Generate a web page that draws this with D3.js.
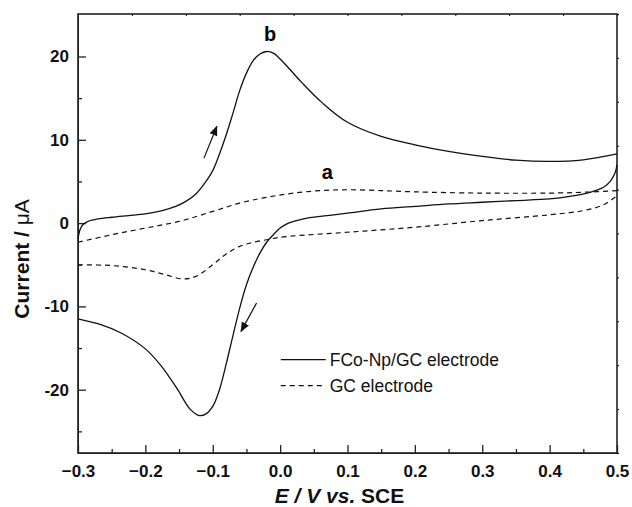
<!DOCTYPE html>
<html>
<head>
<meta charset="utf-8">
<script src="https://cdn.jsdelivr.net/npm/d3@7"></script>
<style>
  body { margin: 0; background: #fff; }
  svg { font-family: "Liberation Sans", Arial, sans-serif; }
  .tick-label { font-weight: bold; font-size: 17px; }
</style>
</head>
<body>
<svg id="chart"></svg>
<script>
// potential (V vs SCE) / current (uA) pairs, each branch sorted by potential
const bForward = [[-0.3,-1.9],[-0.297,-0.8],[-0.293,-0.2],[-0.285,0.2],[-0.27,0.5],[-0.25,0.7],[-0.225,0.9],
  [-0.2,1.1],[-0.175,1.5],[-0.155,2.0],[-0.14,2.6],[-0.125,3.5],[-0.11,5.0],[-0.1,6.3],[-0.09,8.3],
  [-0.08,10.6],[-0.07,13.2],[-0.06,15.9],[-0.05,18.0],[-0.04,19.5],[-0.03,20.3],[-0.02,20.6],[-0.01,20.4],
  [0.0,19.7],[0.015,18.4],[0.033,16.8],[0.063,14.4],[0.1,12.1],[0.15,10.4],[0.2,9.4],[0.25,8.6],
  [0.3,8.0],[0.35,7.55],[0.4,7.4],[0.45,7.6],[0.5,8.3]];
const bReverse = [[-0.3,-11.5],[-0.266,-12.2],[-0.236,-13.2],[-0.2,-15.1],[-0.176,-17.2],[-0.152,-20.0],
  [-0.134,-22.3],[-0.12,-23.1],[-0.11,-22.9],[-0.1,-22.0],[-0.09,-20.0],[-0.08,-16.9],[-0.07,-13.5],
  [-0.06,-10.2],[-0.05,-7.4],[-0.04,-5.3],[-0.03,-3.6],[-0.02,-2.3],[-0.01,-1.4],[0.0,-0.6],[0.01,-0.1],
  [0.02,0.2],[0.04,0.6],[0.07,0.9],[0.1,1.2],[0.15,1.7],[0.2,2.0],[0.25,2.3],[0.3,2.5],[0.35,2.7],
  [0.4,2.9],[0.43,3.2],[0.46,3.7],[0.48,4.3],[0.49,5.0],[0.497,6.0],[0.5,7.0]];
const aForward = [[-0.3,-2.3],[-0.25,-1.4],[-0.2,-0.6],[-0.15,0.2],[-0.1,1.4],[-0.06,2.4],[-0.02,3.1],
  [0.02,3.6],[0.06,3.9],[0.1,4.0],[0.15,3.9],[0.2,3.75],[0.3,3.6],[0.4,3.6],[0.45,3.7],[0.5,3.9]];
const aReverse = [[-0.3,-5.0],[-0.25,-5.1],[-0.2,-5.6],[-0.17,-6.2],[-0.145,-6.7],[-0.125,-6.4],
  [-0.1,-5.0],[-0.08,-3.7],[-0.06,-2.8],[-0.04,-2.3],[-0.02,-2.0],[0.0,-1.7],[0.1,-1.1],[0.2,-0.5],
  [0.3,0.3],[0.4,1.0],[0.45,1.5],[0.48,2.2],[0.5,3.3]];

const xTicks = [-0.3, -0.2, -0.1, 0.0, 0.1, 0.2, 0.3, 0.4, 0.5];
const yTicks = [-20, -10, 0, 10, 20];
const legendLabels = ["FCo-Np/GC electrode", "GC electrode"];

const W = 632, H = 507;
const margin = { top: 14, right: 15, bottom: 54, left: 78 };
const width = W - margin.left - margin.right;
const height = H - margin.top - margin.bottom;

const svg = d3.select("#chart").attr("width", W).attr("height", H);
const chart = svg.append("g").attr("transform", `translate(${margin.left},${margin.top})`);

const x = d3.scaleLinear().domain([-0.3, 0.5]).range([0, width]);
const y = d3.scaleLinear().domain([-27.6, 25.1]).range([height, 0]);

// minor ticks first, then major ones with labels
chart.append("g").attr("transform", `translate(0,${height})`)
  .call(d3.axisBottom(x).tickValues(d3.range(-0.25, 0.5, 0.1)).tickSizeInner(-4).tickSizeOuter(0).tickFormat(""));
chart.append("g")
  .call(d3.axisLeft(y).tickValues([-25, -15, -5, 5, 15]).tickSizeInner(-4).tickSizeOuter(0).tickFormat(""));

const xAxisG = chart.append("g").attr("transform", `translate(0,${height})`)
  .call(d3.axisBottom(x).tickValues(xTicks).tickSizeInner(-8).tickSizeOuter(0).tickPadding(12).tickFormat(d3.format(".1f")));
const yAxisG = chart.append("g")
  .call(d3.axisLeft(y).tickValues(yTicks).tickSizeInner(-8).tickSizeOuter(0).tickPadding(9).tickFormat(d => d));

[xAxisG, yAxisG].forEach(g => {
  g.selectAll("text").attr("class", "tick-label").attr("fill", "#111");
  g.select(".domain").remove();
});
chart.selectAll("g line").attr("stroke", "#222").attr("stroke-width", 1.3);

// top and right axes: tiny ticks on an independent 10-step grid
const xTop = d3.scaleLinear().domain([0, 10]).range([0, width]);
const yRight = d3.scaleLinear().domain([0, 10]).range([height, 0]);
chart.append("g").call(d3.axisTop(xTop).ticks(10).tickSize(-2).tickSizeOuter(0).tickFormat(""))
  .call(g => g.select(".domain").remove());
chart.append("g").attr("transform", `translate(${width},0)`)
  .call(d3.axisRight(yRight).ticks(10).tickSize(2).tickSizeOuter(0).tickFormat(""))
  .call(g => g.select(".domain").remove());

// frame
chart.append("rect")
  .attr("width", width).attr("height", height)
  .attr("fill", "none").attr("stroke", "#222").attr("stroke-width", 1.6);

const line = d3.line()
  .x(d => x(d[0]))
  .y(d => y(d[1]))
  .curve(d3.curveCatmullRom.alpha(0.5));

[bForward, bReverse].forEach(s => {
  chart.append("path").datum(s).attr("d", line)
    .attr("fill", "none").attr("stroke", "#111").attr("stroke-width", 1.3);
});
[aForward, aReverse].forEach(s => {
  chart.append("path").datum(s).attr("d", line)
    .attr("fill", "none").attr("stroke", "#111").attr("stroke-width", 1.2)
    .attr("stroke-dasharray", "5,4");
});

// arrows showing scan direction
const defs = svg.append("defs");
defs.append("marker").attr("id", "arrow")
  .attr("viewBox", "0 0 10 10").attr("refX", 9).attr("refY", 5)
  .attr("markerWidth", 10).attr("markerHeight", 10).attr("markerUnits", "userSpaceOnUse")
  .attr("orient", "auto")
  .append("path").attr("d", "M0,1 L10,5 L0,9 Z").attr("fill", "#111");

const arrows = [
  [[-0.113, 7.8], [-0.094, 11.6]],
  [[-0.035, -9.6], [-0.058, -13.0]]
];
arrows.forEach(a => {
  chart.append("line")
    .attr("x1", x(a[0][0])).attr("y1", y(a[0][1]))
    .attr("x2", x(a[1][0])).attr("y2", y(a[1][1]))
    .attr("stroke", "#111").attr("stroke-width", 1.2)
    .attr("marker-end", "url(#arrow)");
});

// curve labels
chart.append("text").attr("x", x(-0.015)).attr("y", y(21.9))
  .attr("text-anchor", "middle").attr("font-weight", "bold").attr("font-size", 20).text("b");
chart.append("text").attr("x", x(0.07)).attr("y", y(5.3))
  .attr("text-anchor", "middle").attr("font-weight", "bold").attr("font-size", 20).text("a");

// legend
const legend = chart.append("g").attr("transform", `translate(${x(-0.005)},${y(-16.4)})`);
legendLabels.forEach((lab, i) => {
  const row = legend.append("g").attr("transform", `translate(0,${i * 26})`);
  row.append("line").attr("x1", 4).attr("x2", 49).attr("y1", 0).attr("y2", 0)
    .attr("stroke", "#111").attr("stroke-width", 1.2)
    .attr("stroke-dasharray", i === 0 ? null : "5,4");
  row.append("text").attr("x", 53).attr("y", 6.5).attr("font-size", 17.5).attr("fill", "#111").text(lab);
});

// axis titles
const yTitle = svg.append("text")
  .attr("transform", `translate(29,${margin.top + y(-4.3)}) rotate(-90)`)
  .attr("text-anchor", "middle").attr("font-size", 21).attr("fill", "#111");
yTitle.append("tspan").attr("font-weight", "bold").text("Current / ");
yTitle.append("tspan").attr("font-weight", "normal").text("\u03bcA");

const xTitle = svg.append("text")
  .attr("x", margin.left + x(0.1) - 8).attr("y", 503)
  .attr("text-anchor", "middle").attr("font-size", 21).attr("font-weight", "bold").attr("fill", "#111");
xTitle.append("tspan").attr("font-style", "italic").text("E / V vs.");
xTitle.append("tspan").text(" SCE");
</script>
</body>
</html>
